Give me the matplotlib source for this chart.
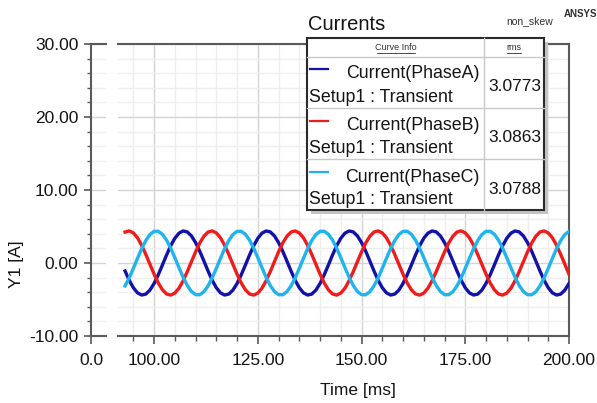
import matplotlib.pyplot as plt
from matplotlib.patches import Rectangle
from matplotlib.ticker import MultipleLocator, FixedLocator

time_ms = list(range(93, 201))

phase_a = [
    -1.09, -2.36, -3.39, -4.09, -4.39, -4.26, -3.71, -2.80, -1.62, -0.28, 1.09, 2.36, 3.39, 4.09, 4.39, 4.26, 3.71, 2.80, 1.62, 0.28,
    -1.09, -2.36, -3.39, -4.09, -4.39, -4.26, -3.71, -2.80, -1.62, -0.28, 1.09, 2.36, 3.39, 4.09, 4.39, 4.26, 3.71, 2.80, 1.62, 0.28,
    -1.09, -2.36, -3.39, -4.09, -4.39, -4.26, -3.71, -2.80, -1.62, -0.28, 1.09, 2.36, 3.39, 4.09, 4.39, 4.26, 3.71, 2.80, 1.62, 0.28,
    -1.09, -2.36, -3.39, -4.09, -4.39, -4.26, -3.71, -2.80, -1.62, -0.28, 1.09, 2.36, 3.39, 4.09, 4.39, 4.26, 3.71, 2.80, 1.62, 0.28,
    -1.09, -2.36, -3.39, -4.09, -4.39, -4.26, -3.71, -2.80, -1.62, -0.28, 1.09, 2.36, 3.39, 4.09, 4.39, 4.26, 3.71, 2.80, 1.62, 0.28,
    -1.09, -2.36, -3.39, -4.09, -4.39, -4.26, -3.71, -2.80,
]
phase_b = [
    4.24, 4.40, 4.12, 3.45, 2.43, 1.18, -0.18, -1.53, -2.73, -3.66, -4.24, -4.40, -4.12, -3.45, -2.43, -1.18, 0.18, 1.53, 2.73, 3.66,
    4.24, 4.40, 4.12, 3.45, 2.43, 1.18, -0.18, -1.53, -2.73, -3.66, -4.24, -4.40, -4.12, -3.45, -2.43, -1.18, 0.18, 1.53, 2.73, 3.66,
    4.24, 4.40, 4.12, 3.45, 2.43, 1.18, -0.18, -1.53, -2.73, -3.66, -4.24, -4.40, -4.12, -3.45, -2.43, -1.18, 0.18, 1.53, 2.73, 3.66,
    4.24, 4.40, 4.12, 3.45, 2.43, 1.18, -0.18, -1.53, -2.73, -3.66, -4.24, -4.40, -4.12, -3.45, -2.43, -1.18, 0.18, 1.53, 2.73, 3.66,
    4.24, 4.40, 4.12, 3.45, 2.43, 1.18, -0.18, -1.53, -2.73, -3.66, -4.24, -4.40, -4.12, -3.45, -2.43, -1.18, 0.18, 1.53, 2.73, 3.66,
    4.24, 4.40, 4.12, 3.45, 2.43, 1.18, -0.18, -1.53,
]
phase_c = [
    -3.14, -2.04, -0.73, 0.64, 1.96, 3.08, 3.90, 4.34, 4.35, 3.94, 3.14, 2.04, 0.73, -0.64, -1.96, -3.08, -3.90, -4.34, -4.35, -3.94,
    -3.14, -2.04, -0.73, 0.64, 1.96, 3.08, 3.90, 4.34, 4.35, 3.94, 3.14, 2.04, 0.73, -0.64, -1.96, -3.08, -3.90, -4.34, -4.35, -3.94,
    -3.14, -2.04, -0.73, 0.64, 1.96, 3.08, 3.90, 4.34, 4.35, 3.94, 3.14, 2.04, 0.73, -0.64, -1.96, -3.08, -3.90, -4.34, -4.35, -3.94,
    -3.14, -2.04, -0.73, 0.64, 1.96, 3.08, 3.90, 4.34, 4.35, 3.94, 3.14, 2.04, 0.73, -0.64, -1.96, -3.08, -3.90, -4.34, -4.35, -3.94,
    -3.14, -2.04, -0.73, 0.64, 1.96, 3.08, 3.90, 4.34, 4.35, 3.94, 3.14, 2.04, 0.73, -0.64, -1.96, -3.08, -3.90, -4.34, -4.35, -3.94,
    -3.14, -2.04, -0.73, 0.64, 1.96, 3.08, 3.90, 4.34,
]

series_names = ["Current(PhaseA)", "Current(PhaseB)", "Current(PhaseC)"]
rms_values = ["3.0773", "3.0863", "3.0788"]
colors = ["#1212a8", "#f01c1c", "#20b4ee"]

plt.rcParams['font.family'] = ['Liberation Sans', 'DejaVu Sans']

W, H = 597, 403
fig = plt.figure(figsize=(W / 100, H / 100), dpi=100)
fig.patch.set_facecolor("white")

def px_rect(x0, x1, y_top, y_bot):
    return [x0 / W, 1 - y_bot / H, (x1 - x0) / W, (y_bot - y_top) / H]

spine_col = "#5a5a5a"
major_grid = "#d4d4d4"
minor_grid = "#eeeeee"
txt_col = "#141414"

# main plot area
ax = fig.add_axes(px_rect(118, 569, 44, 336))
ax.plot(time_ms, phase_a, color=colors[0], lw=2.4, zorder=3)
ax.plot(time_ms, phase_b, color=colors[1], lw=2.4, zorder=3)
ax.plot(time_ms, phase_c, color=colors[2], lw=2.4, zorder=4)
ax.set_xlim(91.3, 200)
ax.set_ylim(-10, 30)
ax.xaxis.set_major_locator(FixedLocator([100, 125, 150, 175, 200]))
ax.xaxis.set_minor_locator(MultipleLocator(5))
ax.yaxis.set_major_locator(MultipleLocator(10))
ax.yaxis.set_minor_locator(MultipleLocator(2))
ax.set_xticklabels(["100.00", "125.00", "150.00", "175.00", "200.00"])
ax.grid(True, which="major", color=major_grid, lw=1.0)
ax.grid(True, which="minor", color=minor_grid, lw=1.0)
ax.set_axisbelow(True)
ax.spines["left"].set_visible(False)
for sp in ["top", "bottom", "right"]:
    ax.spines[sp].set_color(spine_col)
    ax.spines[sp].set_linewidth(1.5)
ax.tick_params(axis="y", which="both", left=False, labelleft=False)
ax.tick_params(axis="x", which="major", length=6, width=1.2, color=spine_col,
               labelsize=12.5, pad=6, labelcolor=txt_col)
ax.tick_params(axis="x", which="minor", length=3.5, width=1.0, color=spine_col)

# short left stub holding the y axis
axl = fig.add_axes(px_rect(91, 106, 44, 336))
axl.set_xlim(0, 1)
axl.set_ylim(-10, 30)
axl.yaxis.set_minor_locator(MultipleLocator(2))
axl.set_yticks([-10, 0, 10, 20, 30])
axl.set_yticklabels(["-10.00", "0.00", "10.00", "20.00", "30.00"])
axl.set_xticks([0])
axl.set_xticklabels(["0.0"])
axl.grid(True, axis="y", which="major", color=major_grid, lw=1.0)
axl.grid(True, axis="y", which="minor", color=minor_grid, lw=1.0)
axl.set_axisbelow(True)
axl.spines["right"].set_visible(False)
for sp in ["top", "bottom", "left"]:
    axl.spines[sp].set_color(spine_col)
    axl.spines[sp].set_linewidth(1.5)
axl.tick_params(axis="y", which="major", length=5, width=1.2, color=spine_col,
                labelsize=12.5, pad=4, labelcolor=txt_col)
axl.tick_params(axis="y", which="minor", length=3, width=1.0, color=spine_col)
axl.tick_params(axis="x", which="major", length=6, width=1.2, color=spine_col,
                labelsize=12.5, pad=6, labelcolor=txt_col)

# overlay in pixel coordinates for texts and the curve info table
ov = fig.add_axes([0, 0, 1, 1], zorder=10)
ov.set_xlim(0, W)
ov.set_ylim(H, 0)
ov.axis("off")
ov.patch.set_alpha(0)

ov.text(308, 30, "Currents", fontsize=14.5, color=txt_col, va="baseline")
ov.text(530, 21, "non_skew", fontsize=7.5, color="#303030", ha="center", va="center")
ov.text(581, 14, "ANSYS", fontsize=7, color="#303030", ha="center", va="center",
        fontweight="bold")
ov.text(358, 390, "Time [ms]", fontsize=12.5, color=txt_col, ha="center", va="center")
ov.text(17, 264, "Y1 [A]", fontsize=12.5, color=txt_col, ha="center", va="center",
        rotation=90)

# table
bx0, bx1, by0, by1 = 307, 544, 38, 210
ov.add_patch(Rectangle((bx0 + 4, by0 + 4), bx1 - bx0, by1 - by0,
                       facecolor="#c4c4c4", edgecolor="none"))
ov.add_patch(Rectangle((bx0, by0), bx1 - bx0, by1 - by0,
                       facecolor="white", edgecolor="#2a2a2a", lw=1.5))
div_col = "#c8c8c8"
ov.plot([484, 484], [by0, by1], color=div_col, lw=1.0)
for yy in [57, 108, 159]:
    ov.plot([bx0, bx1], [yy, yy], color=div_col, lw=1.0)

ov.text(396, 48, "Curve Info", fontsize=6.5, color="#303030", ha="center", va="center")
ov.plot([377, 415], [52.5, 52.5], color="#303030", lw=0.6)
ov.text(514, 48, "rms", fontsize=6.5, color="#303030", ha="center", va="center")
ov.plot([507, 521], [52.5, 52.5], color="#303030", lw=0.6)

row_step = 51.5
for i, (name, val, col) in enumerate(zip(series_names, rms_values, colors)):
    dy = i * row_step
    ov.plot([310, 328], [69 + dy, 69 + dy], color=col, lw=1.6)
    ov.text(480, 74 + dy, name, fontsize=12.8, color=txt_col, ha="right", va="center")
    ov.text(309, 97 + dy, "Setup1 : Transient", fontsize=12.8, color=txt_col,
            ha="left", va="center")
    ov.text(541, 86.5 + dy, val, fontsize=12.5, color=txt_col, ha="right", va="center")

fig.savefig("out.png", dpi=100, facecolor="white")
